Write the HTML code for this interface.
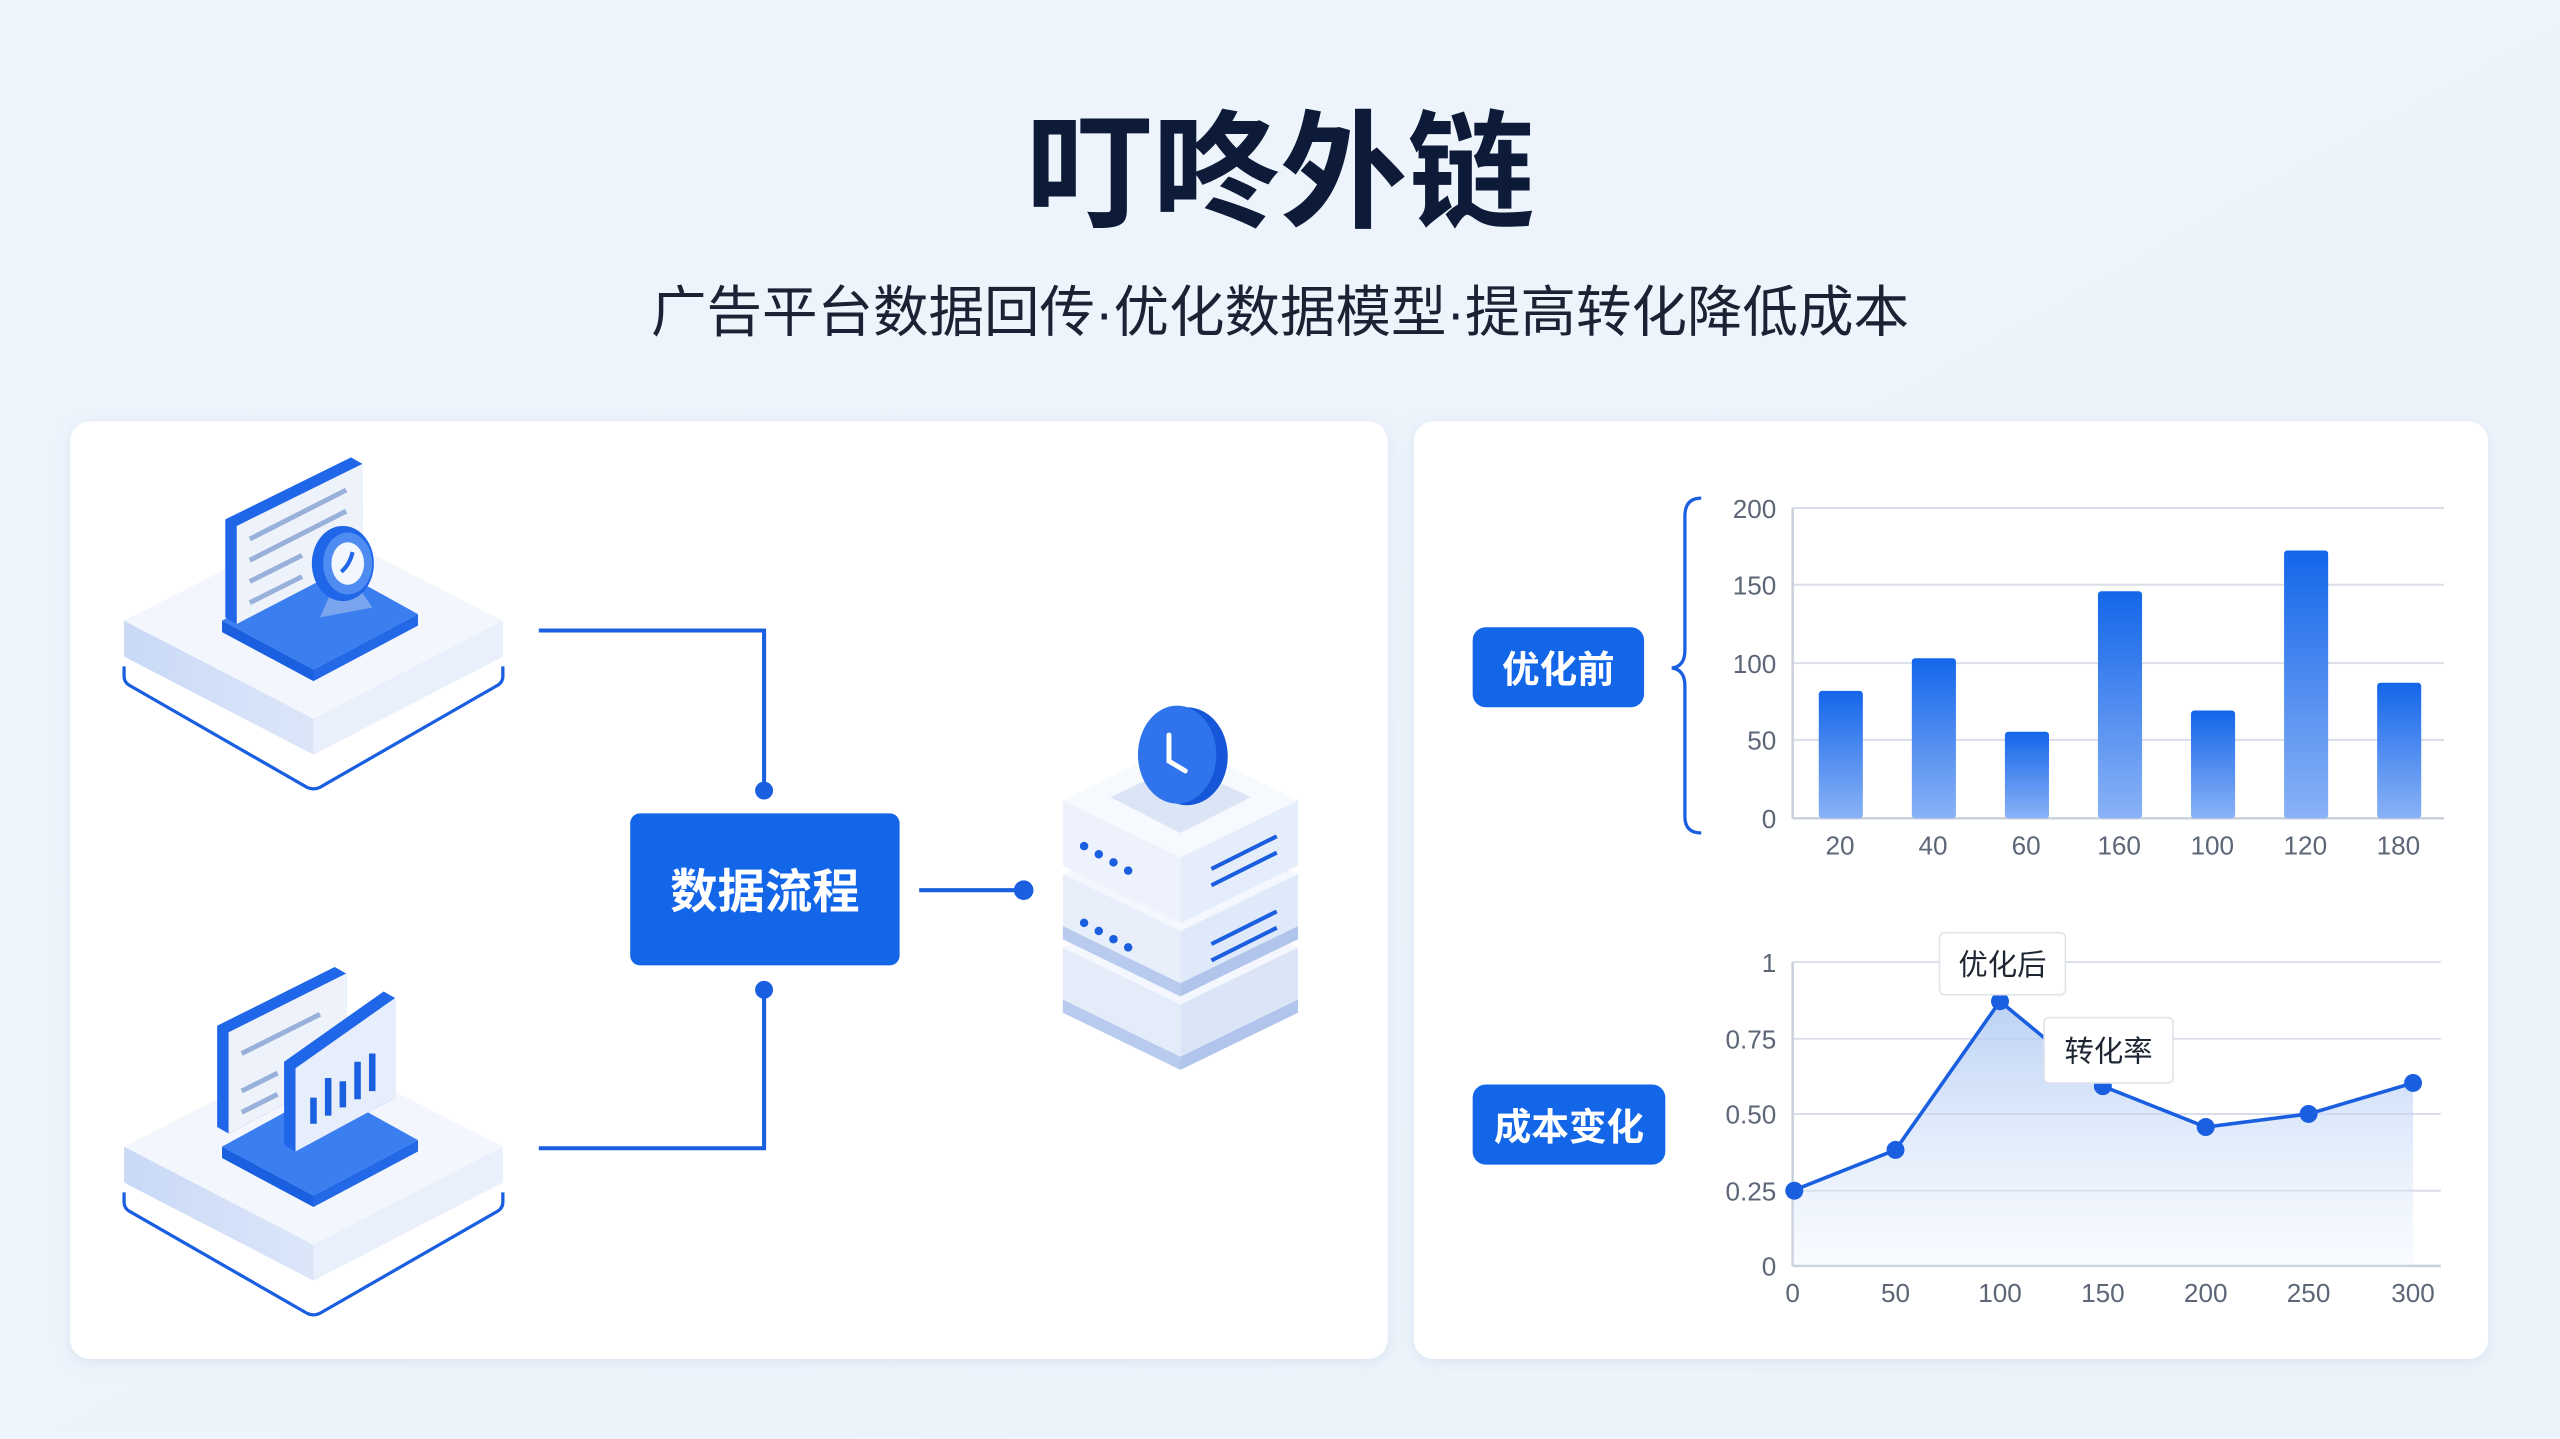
<!DOCTYPE html>
<html><head><meta charset="utf-8">
<style>
html,body{margin:0;padding:0;width:2560px;height:1439px;overflow:hidden;background:#eef4fb;}
svg{display:block}
text{font-family:"Liberation Sans","Noto Sans CJK SC",sans-serif;}
</style></head>
<body>
<svg width="2560" height="1439" viewBox="0 0 1568 881" preserveAspectRatio="none" xmlns="http://www.w3.org/2000/svg">
<defs>
<linearGradient id="bg" x1="0" y1="0" x2="1" y2="1"><stop offset="0" stop-color="#eef4fc"/><stop offset="1" stop-color="#edf3fa"/></linearGradient>
<linearGradient id="bar" x1="0" y1="0" x2="0" y2="1"><stop offset="0" stop-color="#1466ea"/><stop offset="1" stop-color="#8ab2f6"/></linearGradient>
<linearGradient id="area" x1="0" y1="0" x2="0" y2="1"><stop offset="0" stop-color="#a9c6f3" stop-opacity="0.8"/><stop offset="1" stop-color="#e8f0fc" stop-opacity="0.3"/></linearGradient>
<linearGradient id="side" x1="0" y1="0" x2="1" y2="0"><stop offset="0" stop-color="#c9d9f6"/><stop offset="1" stop-color="#eef3fc"/></linearGradient>
<filter id="sh" x="-5%" y="-5%" width="110%" height="110%"><feDropShadow dx="0" dy="2" stdDeviation="4" flood-color="#9bb3d6" flood-opacity="0.25"/></filter>
<g id="plat">
 <path d="M76 408 L76 414 Q76 418 80 420 L188 482 Q192 484 196 482 L304 420 Q308 418 308 414 L308 408" fill="none" stroke="#1a5fe0" stroke-width="2"/>
 <polygon points="76,380 192,440 308,380 308,402 192,462 76,402" fill="url(#side)"/>
 <polygon points="192,440 308,380 308,402 192,462" fill="#eaf0fb"/>
 <polygon points="76,380 192,321 308,380 192,440" fill="#f3f6fd"/>
 <polygon points="136,380 200,345 256,376 192,410" fill="#3b7ef0"/>
 <polygon points="136,380 192,410 192,417 136,387" fill="#1a5fe0"/>
 <polygon points="192,410 256,376 256,383 192,417" fill="#2368e6"/>
</g>
</defs>
<rect width="1568" height="881" fill="url(#bg)"/>
<text x="784" y="133" text-anchor="middle" font-size="78" font-weight="bold" fill="#0d1a38">叮咚外链</text>
<text x="784" y="203" text-anchor="middle" font-size="34" fill="#1a2233">广告平台数据回传·优化数据模型·提高转化降低成本</text>

<rect x="43" y="258" width="807" height="574" rx="12" fill="#ffffff" filter="url(#sh)"/>
<rect x="866" y="258" width="658" height="574" rx="12" fill="#ffffff" filter="url(#sh)"/>

<!-- platform 1 -->
<use href="#plat"/>
<polygon points="138,318 215,280 222,284 222,342 145,382 138,378" fill="#1f66e8"/>
<polygon points="145,322 222,284 222,342 145,382" fill="#eef2fa"/>
<line x1="153" y1="330" x2="212" y2="300" stroke="#98b0da" stroke-width="3"/>
<line x1="153" y1="343" x2="212" y2="313" stroke="#98b0da" stroke-width="3"/>
<line x1="153" y1="356" x2="185" y2="340" stroke="#98b0da" stroke-width="3"/>
<line x1="153" y1="369" x2="185" y2="353" stroke="#98b0da" stroke-width="3"/>
<path d="M196 378 L204 360 L220 360 L228 372 Z" fill="#7aa5ee"/>
<ellipse cx="210" cy="345" rx="19" ry="23" fill="#1f66e8"/>
<ellipse cx="213" cy="345" rx="15" ry="19" fill="#4f8cf2"/>
<ellipse cx="213" cy="345" rx="10" ry="13" fill="#f2f6fd"/>
<path d="M209 350 Q214 346 216 338" stroke="#1f66e8" stroke-width="2.5" fill="none"/>

<!-- platform 2 -->
<g transform="translate(0,322)">
<use href="#plat"/>
</g>
<polygon points="133,628 205,592 212,596 212,656 140,694 133,690" fill="#1f66e8"/>
<polygon points="140,632 212,596 212,656 140,694" fill="#eef2fa"/>
<line x1="148" y1="645" x2="196" y2="621" stroke="#98b0da" stroke-width="3"/>
<line x1="148" y1="668" x2="170" y2="657" stroke="#98b0da" stroke-width="3"/>
<line x1="148" y1="681" x2="170" y2="670" stroke="#98b0da" stroke-width="3"/>
<polygon points="174,650 235,607 242,611 242,672 181,705 174,701" fill="#1f66e8"/>
<polygon points="181,654 242,611 242,672 181,705" fill="#e6eefb"/>
<line x1="192" y1="672" x2="192" y2="688" stroke="#1a5fe0" stroke-width="4"/>
<line x1="201" y1="660" x2="201" y2="683" stroke="#1a5fe0" stroke-width="4"/>
<line x1="210" y1="662" x2="210" y2="678" stroke="#1a5fe0" stroke-width="4"/>
<line x1="219" y1="650" x2="219" y2="673" stroke="#1a5fe0" stroke-width="4"/>
<line x1="228" y1="645" x2="228" y2="668" stroke="#1a5fe0" stroke-width="4"/>

<!-- connectors -->
<path d="M330 386 H468 V484" fill="none" stroke="#1a5fe0" stroke-width="2.5"/>
<path d="M330 703 H468 V606" fill="none" stroke="#1a5fe0" stroke-width="2.5"/>
<circle cx="468" cy="484" r="5.5" fill="#1a5fe0"/>
<circle cx="468" cy="606" r="5.5" fill="#1a5fe0"/>
<rect x="386" y="498" width="165" height="93" rx="6" fill="#1366e8"/>
<text x="468.5" y="556" text-anchor="middle" font-size="29" font-weight="bold" fill="#ffffff">数据流程</text>
<line x1="563" y1="545" x2="627" y2="545" stroke="#1a5fe0" stroke-width="2.5"/>
<circle cx="627" cy="545" r="6" fill="#1a5fe0"/>

<!-- server -->
<g>
 <g transform="translate(0,90)">
  <polygon points="651,490 723,525 723,565 651,530" fill="#e4ecfa"/>
  <polygon points="723,525 795,490 795,530 723,565" fill="#dbe5f7"/>
  <polygon points="651,522 723,557 723,565 651,530" fill="#b8cbee"/>
  <polygon points="723,557 795,522 795,530 723,565" fill="#b0c4ec"/>
  <polygon points="651,490 723,455 795,490 723,525" fill="#f4f7fd"/>
 </g>
 <g transform="translate(0,45)">
  <polygon points="651,490 723,525 723,565 651,530" fill="#e8effb"/>
  <polygon points="723,525 795,490 795,530 723,565" fill="#e0e9f9"/>
  <polygon points="651,522 723,557 723,565 651,530" fill="#b8cbee"/>
  <polygon points="723,557 795,522 795,530 723,565" fill="#b0c4ec"/>
  <polygon points="651,490 723,455 795,490 723,525" fill="#f4f7fd"/>
 </g>
 <polygon points="651,490 723,525 723,565 651,530" fill="#edf2fc"/>
 <polygon points="723,525 795,490 795,530 723,565" fill="#e6edfa"/>
 <polygon points="651,490 723,455 795,490 723,525" fill="#f6f9fe"/>
 <polygon points="680,488 723,468 766,488 723,510" fill="#dbe5f6"/>
 <g fill="#1a5fe0">
  <circle cx="664" cy="518" r="2.6"/><circle cx="673" cy="523" r="2.6"/><circle cx="682" cy="528" r="2.6"/><circle cx="691" cy="533" r="2.6"/>
  <circle cx="664" cy="565" r="2.6"/><circle cx="673" cy="570" r="2.6"/><circle cx="682" cy="575" r="2.6"/><circle cx="691" cy="580" r="2.6"/>
 </g>
 <g stroke="#1a5fe0" stroke-width="2.5">
  <line x1="742" y1="532" x2="782" y2="512"/><line x1="742" y1="542" x2="782" y2="522"/>
  <line x1="742" y1="578" x2="782" y2="558"/><line x1="742" y1="588" x2="782" y2="568"/>
 </g>
 <ellipse cx="727" cy="463" rx="25" ry="30" fill="#1656d8"/>
 <ellipse cx="721" cy="462" rx="24" ry="30" fill="#2f74ec"/>
 <path d="M716 450 V466 L726 472" stroke="#ffffff" stroke-width="3" fill="none" stroke-linecap="round"/>
</g>

<!-- right: bar chart -->
<rect x="902" y="384" width="105" height="49" rx="8" fill="#1366e8"/>
<text x="954.5" y="418" text-anchor="middle" font-size="23" font-weight="bold" fill="#ffffff">优化前</text>
<path d="M1042 305 Q1032 305 1032 316 V398 Q1032 408 1024 409 Q1032 410 1032 420 V500 Q1032 510 1042 510" fill="none" stroke="#1a5fe0" stroke-width="2"/>
<g stroke="#d9dee8" stroke-width="1.2">
 <line x1="1098" y1="311" x2="1497" y2="311"/>
 <line x1="1098" y1="358" x2="1497" y2="358"/>
 <line x1="1098" y1="406" x2="1497" y2="406"/>
 <line x1="1098" y1="453" x2="1497" y2="453"/>
</g>
<line x1="1098" y1="311" x2="1098" y2="501" stroke="#c9cfdb" stroke-width="1.5"/>
<line x1="1098" y1="501" x2="1497" y2="501" stroke="#c9cfdb" stroke-width="1.5"/>
<g font-size="16" fill="#5c6677" text-anchor="end">
 <text x="1088" y="317">200</text><text x="1088" y="364">150</text><text x="1088" y="412">100</text><text x="1088" y="459">50</text><text x="1088" y="507">0</text>
</g>
<g fill="url(#bar)">
 <rect x="1114" y="423" width="27" height="78" rx="2"/>
 <rect x="1171" y="403" width="27" height="98" rx="2"/>
 <rect x="1228" y="448" width="27" height="53" rx="2"/>
 <rect x="1285" y="362" width="27" height="139" rx="2"/>
 <rect x="1342" y="435" width="27" height="66" rx="2"/>
 <rect x="1399" y="337" width="27" height="164" rx="2"/>
 <rect x="1456" y="418" width="27" height="83" rx="2"/>
</g>
<g font-size="16" fill="#5c6677" text-anchor="middle">
 <text x="1127" y="523">20</text><text x="1184" y="523">40</text><text x="1241" y="523">60</text><text x="1298" y="523">160</text><text x="1355" y="523">100</text><text x="1412" y="523">120</text><text x="1469" y="523">180</text>
</g>

<!-- line chart -->
<rect x="902" y="664" width="118" height="49" rx="8" fill="#1366e8"/>
<text x="961" y="698" text-anchor="middle" font-size="23" font-weight="bold" fill="#ffffff">成本变化</text>
<g stroke="#d9dee8" stroke-width="1.2">
 <line x1="1098" y1="589" x2="1495" y2="589"/>
 <line x1="1098" y1="636" x2="1495" y2="636"/>
 <line x1="1098" y1="682" x2="1495" y2="682"/>
 <line x1="1098" y1="729" x2="1495" y2="729"/>
</g>
<line x1="1098" y1="589" x2="1098" y2="775" stroke="#c9cfdb" stroke-width="1.5"/>
<line x1="1098" y1="775" x2="1495" y2="775" stroke="#c9cfdb" stroke-width="1.5"/>
<path d="M1098 729 L1161 704 L1225 613 L1288 665 L1351 690 L1414 682 L1478 663 L1478 775 L1098 775 Z" fill="url(#area)"/>
<polyline points="1098,729 1161,704 1225,613 1288,665 1351,690 1414,682 1478,663" fill="none" stroke="#1a5fe0" stroke-width="2.2"/>
<g fill="#1a5fe0">
 <circle cx="1099" cy="729" r="5.5"/><circle cx="1161" cy="704" r="5.5"/><circle cx="1225" cy="613" r="5.5"/><circle cx="1288" cy="665" r="5.5"/><circle cx="1351" cy="690" r="5.5"/><circle cx="1414" cy="682" r="5.5"/><circle cx="1478" cy="663" r="5.5"/>
</g>
<g font-size="16" fill="#5c6677" text-anchor="end">
 <text x="1088" y="595">1</text><text x="1088" y="642">0.75</text><text x="1088" y="688">0.50</text><text x="1088" y="735">0.25</text><text x="1088" y="781">0</text>
</g>
<g font-size="16" fill="#5c6677" text-anchor="middle">
 <text x="1098" y="797">0</text><text x="1161" y="797">50</text><text x="1225" y="797">100</text><text x="1288" y="797">150</text><text x="1351" y="797">200</text><text x="1414" y="797">250</text><text x="1478" y="797">300</text>
</g>
<rect x="1188" y="571" width="77" height="38" rx="3" fill="#ffffff" stroke="#dfe3ea"/>
<text x="1226.5" y="597" text-anchor="middle" font-size="18" fill="#1f2633">优化后</text>
<rect x="1252" y="623" width="79" height="40" rx="3" fill="#ffffff" stroke="#dfe3ea"/>
<text x="1291.5" y="650" text-anchor="middle" font-size="18" fill="#1f2633">转化率</text>
</svg>
</body></html>
